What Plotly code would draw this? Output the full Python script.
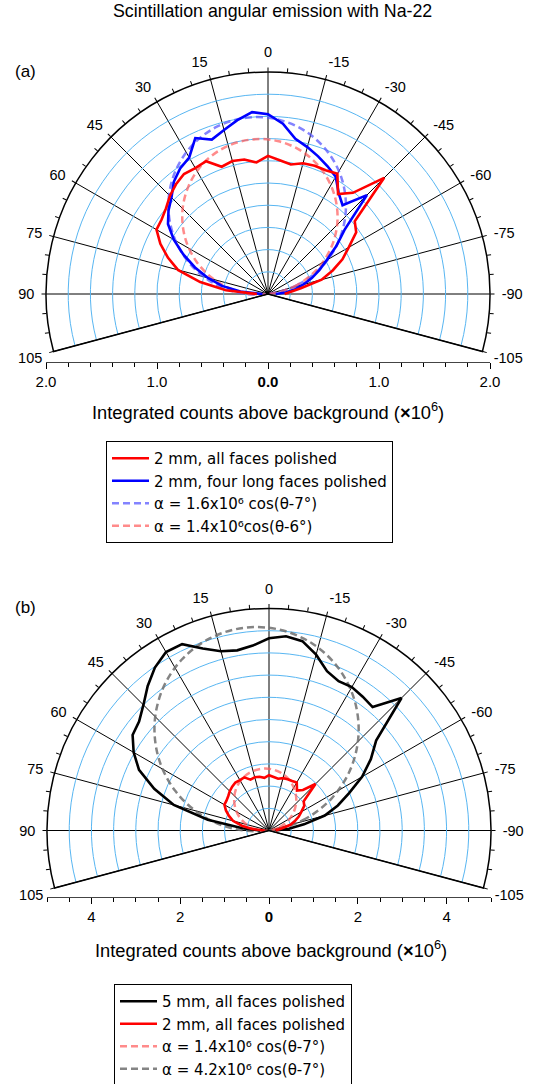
import math
import plotly.graph_objects as go

# ---------------- data ----------------
theta = [90, 85, 80, 75, 70, 65, 60, 55, 50, 45, 40, 35, 30, 25, 20, 15, 10, 5, 0,
         -5, -10, -15, -20, -25, -30, -35, -40, -45, -50, -55, -60, -65, -70, -75, -80, -85, -90]

r_red_2mm_all = [0.10, 0.38, 0.62, 0.84, 0.96, 1.07, 1.16, 1.17, 1.20, 1.25, 1.29, 1.32, 1.31, 1.32,
                 1.22, 1.24, 1.23, 1.19, 1.245,
                 1.21, 1.185, 1.22, 1.23, 1.23, 1.25, 1.10, 1.19, 1.48, 1.02, 0.97, 0.84, 0.74,
                 0.62, 0.50, 0.30, 0.20, 0.15]

r_blue_2mm_long = [0.05, 0.25, 0.42, 0.56, 0.70, 0.84, 0.98, 1.10, 1.17, 1.23, 1.32, 1.38, 1.42, 1.55,
                   1.48, 1.53, 1.59, 1.645, 1.62,
                   1.54, 1.42, 1.37, 1.32, 1.27, 1.22, 1.11, 1.045, 1.26, 0.90, 0.75, 0.61, 0.51,
                   0.42, 0.33, 0.25, 0.16, 0.07]

r_black_5mm_all = [0.20, 0.60, 1.40, 2.22, 2.75, 3.23, 3.52, 3.75, 3.82, 4.00, 4.25, 4.48, 4.64, 4.63,
                   4.36, 4.18, 4.12, 4.18, 4.33,
                   4.39, 4.33, 4.10, 3.82, 3.71, 3.73, 3.68, 3.63, 4.22, 3.15, 2.80, 2.42, 1.99,
                   1.65, 1.30, 0.80, 0.45, 0.15]

fit_theta_7 = [-83, -73, -63, -53, -43, -33, -23, -13, -3, 7, 17, 27, 37, 47, 57, 67, 77, 87, 97]
fit_theta_6 = [-84, -74, -64, -54, -44, -34, -24, -14, -4, 6, 16, 26, 36, 46, 56, 66, 76, 86, 96]

r_fit_a_blue = [0, 0.278, 0.547, 0.800, 1.028, 1.226, 1.386, 1.504, 1.576, 1.600,
                1.576, 1.504, 1.386, 1.226, 1.028, 0.800, 0.547, 0.278, 0]
r_fit_a_red = [0, 0.243, 0.479, 0.700, 0.900, 1.072, 1.212, 1.316, 1.379, 1.400,
               1.379, 1.316, 1.212, 1.072, 0.900, 0.700, 0.479, 0.243, 0]
r_fit_b_red = [0, 0.243, 0.479, 0.700, 0.900, 1.072, 1.212, 1.316, 1.379, 1.400,
               1.379, 1.316, 1.212, 1.072, 0.900, 0.700, 0.479, 0.243, 0]
r_fit_b_gray = [0, 0.799, 1.573, 2.300, 2.957, 3.524, 3.984, 4.323, 4.530, 4.600,
                4.530, 4.323, 3.984, 3.524, 2.957, 2.300, 1.573, 0.799, 0]

angular_ticks = [-105, -90, -75, -60, -45, -30, -15, 0, 15, 30, 45, 60, 75, 90, 105]
angular_minor = list(range(-105, 106, 5))

a_xticks = [-2, -1, 0, 1, 2]
a_xtext = ["2.0", "1.0", "<b>0.0</b>", "1.0", "2.0"]
b_xticks = [-4, -2, 0, 2, 4]
b_xtext = ["4", "2", "<b>0</b>", "2", "4"]

# ---------------- layout helpers ----------------
W, H = 535, 1084
FONT = "Liberation Sans, Arial, sans-serif"
LEG_FAMILY = "DejaVu Sans, Liberation Sans, sans-serif"
GRID_BLUE = "#58b6f2"
S15 = math.sin(math.radians(15))


def dom(cx, cy, R):
    return dict(x=[(cx - R) / W, (cx + R) / W],
                y=[1 - (cy + R * S15) / H, 1 - (cy - R) / H])


def main_polar(d, rmax, rdt):
    return dict(
        domain=d, sector=[-15, 195], bgcolor="rgba(0,0,0,0)",
        radialaxis=dict(range=[0, rmax], tick0=0, dtick=rdt, showline=False,
                        showticklabels=False, ticks="", showgrid=True,
                        gridcolor=GRID_BLUE, gridwidth=1),
        angularaxis=dict(rotation=90, direction="counterclockwise", thetaunit="degrees",
                         tickmode="array", tickvals=angular_ticks,
                         ticktext=[str(v) for v in angular_ticks],
                         ticks="outside", ticklen=8, tickcolor="rgba(0,0,0,0)",
                         showline=True, linecolor="black", linewidth=1.5,
                         showgrid=True, gridcolor="black", gridwidth=1,
                         tickfont=dict(family=FONT, size=14.5, color="black")),
    )


def tick_polar(d, rmax):
    return dict(
        domain=d, sector=[-15, 195], bgcolor="rgba(0,0,0,0)",
        radialaxis=dict(range=[0, rmax], visible=False),
        angularaxis=dict(rotation=90, direction="counterclockwise", thetaunit="degrees",
                         tickmode="array", tickvals=angular_minor, showticklabels=False,
                         ticks="outside", ticklen=4, tickcolor="black",
                         showline=False, showgrid=False),
    )


A_C = (268, 294)
B_C = (269, 830.5)
R = 222
dom_a = dom(A_C[0], A_C[1], R)
dom_b = dom(B_C[0], B_C[1], R)

fig = go.Figure()

DASH = "7px,4px"

# ---------- panel (a) ----------
fig.add_trace(go.Scatterpolar(r=r_fit_a_blue, theta=fit_theta_7, mode="lines", subplot="polar",
                              line=dict(color="rgba(90,90,255,0.75)", width=2.5, dash=DASH, shape="spline"),
                              name="α = 1.6x10⁶ cos(θ-7°)", legend="legend", legendrank=3))
fig.add_trace(go.Scatterpolar(r=r_fit_a_red, theta=fit_theta_6, mode="lines", subplot="polar",
                              line=dict(color="rgba(255,90,90,0.7)", width=2.5, dash=DASH, shape="spline"),
                              name="α = 1.4x10⁶cos(θ-6°)", legend="legend", legendrank=4))
fig.add_trace(go.Scatterpolar(r=r_blue_2mm_long, theta=theta, mode="lines", subplot="polar",
                              line=dict(color="#0000ff", width=2.6),
                              name="2 mm, four long faces polished", legend="legend", legendrank=2))
fig.add_trace(go.Scatterpolar(r=r_red_2mm_all, theta=theta, mode="lines", subplot="polar",
                              line=dict(color="#ff0000", width=2.6),
                              name="2 mm, all faces polished", legend="legend", legendrank=1))
fig.add_trace(go.Scatterpolar(r=[], theta=[], subplot="polar2", showlegend=False, hoverinfo="skip"))

# ---------- panel (b) ----------
fig.add_trace(go.Scatterpolar(r=r_fit_b_gray, theta=fit_theta_7, mode="lines", subplot="polar3",
                              line=dict(color="rgba(110,110,110,0.85)", width=2.5, dash=DASH, shape="spline"),
                              name="α = 4.2x10⁶ cos(θ-7°)", legend="legend2", legendrank=4))
fig.add_trace(go.Scatterpolar(r=r_fit_b_red, theta=fit_theta_7, mode="lines", subplot="polar3",
                              line=dict(color="rgba(255,90,90,0.7)", width=2.5, dash=DASH, shape="spline"),
                              name="α = 1.4x10⁶ cos(θ-7°)", legend="legend2", legendrank=3))
fig.add_trace(go.Scatterpolar(r=r_black_5mm_all, theta=theta, mode="lines", subplot="polar3",
                              line=dict(color="#000000", width=2.6),
                              name="5 mm, all faces polished", legend="legend2", legendrank=1))
fig.add_trace(go.Scatterpolar(r=r_red_2mm_all, theta=theta, mode="lines", subplot="polar3",
                              line=dict(color="#ff0000", width=2.6),
                              name="2 mm, all faces polished", legend="legend2", legendrank=2))
fig.add_trace(go.Scatterpolar(r=[], theta=[], subplot="polar4", showlegend=False, hoverinfo="skip"))

# ---------- radial scale axes underneath ----------
fig.add_trace(go.Scatter(x=[], y=[], xaxis="x", yaxis="y", showlegend=False, hoverinfo="skip"))
fig.add_trace(go.Scatter(x=[], y=[], xaxis="x2", yaxis="y2", showlegend=False, hoverinfo="skip"))

A_AXIS_Y = 362
B_AXIS_Y = 897


def xaxis_def(d, rng, tv, tt, minor_step, anchor):
    n = int(round((rng[1] - rng[0]) / minor_step))
    minor_vals = [rng[0] + i * minor_step for i in range(n + 1)]
    return dict(domain=d["x"], range=rng, anchor=anchor, tickmode="array", tickvals=tv, ticktext=tt,
                ticks="outside", ticklen=6, tickcolor="black", tickwidth=1,
                showline=True, linecolor="#444444", linewidth=1, showgrid=False, zeroline=False,
                minor=dict(tickmode="array", tickvals=minor_vals, ticks="outside", ticklen=4,
                           tickcolor="black", showgrid=False),
                tickfont=dict(family=FONT, size=15, color="black"), fixedrange=True)


LEG_FONT = dict(family=LEG_FAMILY, size=15, color="black")

fig.update_layout(
    width=W, height=H,
    margin=dict(l=0, r=0, t=0, b=0, autoexpand=False),
    paper_bgcolor="white", plot_bgcolor="rgba(0,0,0,0)",
    font=dict(family=FONT, size=14, color="black"),
    polar=main_polar(dom_a, 2.0, 0.2),
    polar2=tick_polar(dom_a, 2.0),
    polar3=main_polar(dom_b, 5.0, 0.5),
    polar4=tick_polar(dom_b, 5.0),
    xaxis=xaxis_def(dom_a, [-2, 2], a_xticks, a_xtext, 0.2, "y"),
    yaxis=dict(domain=[1 - A_AXIS_Y / H, 1 - A_AXIS_Y / H + 0.002], anchor="x", visible=False, fixedrange=True),
    xaxis2=xaxis_def(dom_b, [-5, 5], b_xticks, b_xtext, 0.5, "y2"),
    yaxis2=dict(domain=[1 - B_AXIS_Y / H, 1 - B_AXIS_Y / H + 0.002], anchor="x2", visible=False, fixedrange=True),
    legend=dict(x=106 / W, y=1 - 441 / H, xanchor="left", yanchor="top",
                bordercolor="black", borderwidth=1, bgcolor="white",
                font=LEG_FONT, tracegroupgap=0, itemwidth=37),
    legend2=dict(x=114 / W, y=1 - 984 / H, xanchor="left", yanchor="top",
                 bordercolor="black", borderwidth=1, bgcolor="white",
                 font=LEG_FONT, tracegroupgap=0, itemwidth=37),
    showlegend=True,
)

ann = dict(xref="paper", yref="paper", showarrow=False)
fig.add_annotation(text="Scintillation angular emission with Na-22", x=272 / W, y=1 - 11 / H,
                   xanchor="center", yanchor="middle", font=dict(family=FONT, size=17.8, color="black"), **ann)
fig.add_annotation(text="(a)", x=13 / W, y=1 - 71 / H, xanchor="left", yanchor="middle",
                   font=dict(family=FONT, size=17, color="black"), **ann)
fig.add_annotation(text="(b)", x=13 / W, y=1 - 607 / H, xanchor="left", yanchor="middle",
                   font=dict(family=FONT, size=17, color="black"), **ann)
fig.add_annotation(text="Integrated counts above background (<b>×</b>10<sup>6</sup>)",
                   x=268 / W, y=1 - 411 / H, xanchor="center", yanchor="middle",
                   font=dict(family=FONT, size=18.3, color="black"), **ann)
fig.add_annotation(text="Integrated counts above background (<b>×</b>10<sup>6</sup>)",
                   x=271 / W, y=1 - 949 / H, xanchor="center", yanchor="middle",
                   font=dict(family=FONT, size=18.3, color="black"), **ann)

fig.write_html("out.html")
